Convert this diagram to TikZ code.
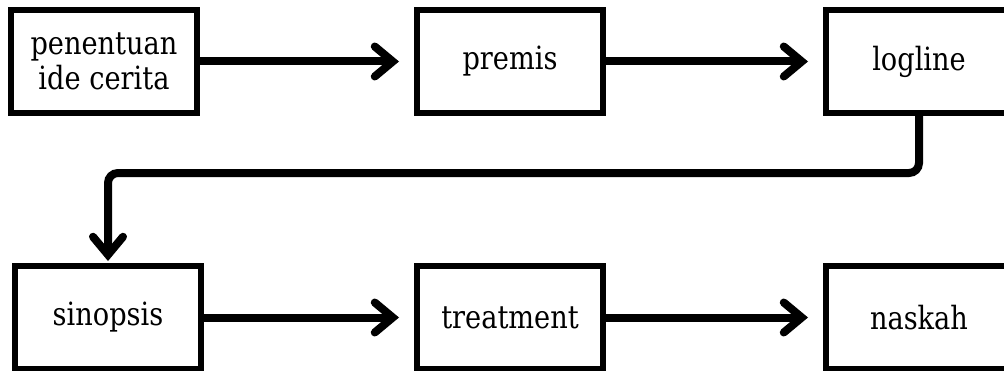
\documentclass[tikz,border=0pt]{standalone}
\usepackage{fontspec}
\setmainfont[FakeStretch=0.85]{DejaVu Serif}
\usetikzlibrary{arrows.meta}

\begin{document}
\begin{tikzpicture}[inner sep=0pt]
\def\u{0.5pt}
\tikzset{
  stage/.style={draw, line width=3pt, minimum width=186*\u, minimum height=103*\u,
    align=center, font=\fontsize{16}{17.5}\selectfont},
  flow/.style={line width=4pt, line cap=round,
    -{Straight Barb[length=9pt,width=15pt,line cap=round]}, shorten >=7.5pt}
}
\useasboundingbox (0, 0) rectangle (1004*\u, 370*\u);
\clip (0, 0) rectangle (1004*\u, 370*\u);

\node[stage] (idea) at (104*\u, 308.5*\u) {penentuan\\ide cerita};
\node[stage] (premis) at (510*\u, 308.5*\u) {premis};
\node[stage] (logline) at (919*\u, 308.5*\u) {logline};
\node[stage] (sinopsis) at (108*\u, 52.5*\u) {sinopsis};
\node[stage] (treatment) at (510*\u, 52.5*\u) {treatment};
\node[stage] (naskah) at (919*\u, 52.5*\u) {naskah};

\draw[flow] (idea) -- (premis);
\draw[flow] (premis) -- (logline);
\draw[flow, line cap=butt, rounded corners=10*\u, shorten >=1pt]
  (logline.south) -- ++(0, -57*\u) -| (sinopsis.north);
\draw[flow] (sinopsis) -- (treatment);
\draw[flow] (treatment) -- (naskah);
\end{tikzpicture}
\end{document}
